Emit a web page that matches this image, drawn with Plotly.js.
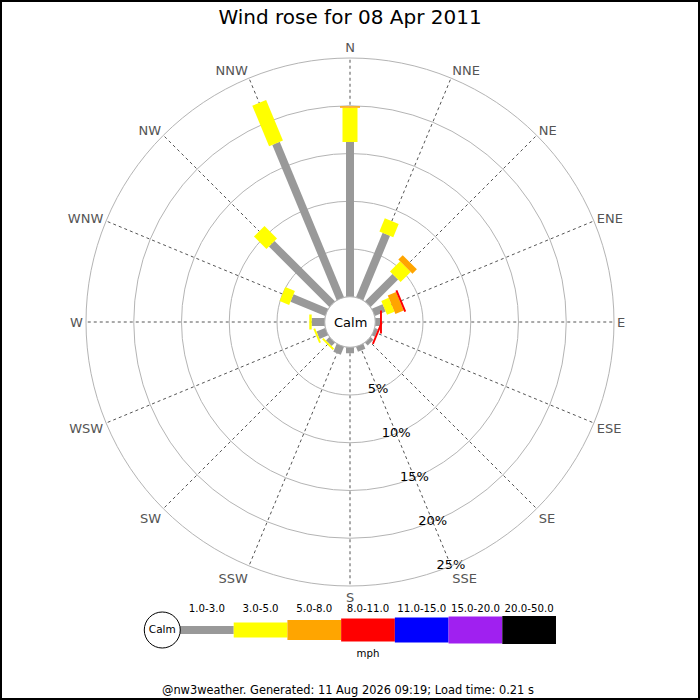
<!DOCTYPE html>
<html>
<head>
<meta charset="utf-8">
<script src="https://cdn.plot.ly/plotly-3.0.1.min.js"></script>
<style>html,body{margin:0;padding:0;background:#fff;}#chart{width:700px;height:700px;}</style>
</head>
<body>
<div id="chart"></div>
<script>
// ---- data ----
var directions = ["N","NNE","NE","ENE","E","ESE","SE","SSE","S","SSW","SW","WSW","W","WNW","NW","NNW"];
var directionAngles = [0,22.5,45,67.5,90,112.5,135,157.5,180,202.5,225,247.5,270,292.5,315,337.5];
var speedBins = ["1.0-3.0","3.0-5.0","5.0-8.0","8.0-11.0","11.0-15.0","15.0-20.0","20.0-50.0"];
var bin1 = [16.2, 7.3, 4.06, 1.23, 0.5, 0.35, 0.4, 0.55, 0.63, 0.9, 0.5, 0.98, 1.37, 3.93, 8.95, 17.6];
var bin2 = [3.6, 1.48, 1.5, 0.84, 0, 0, 0, 0, 0, 0, 0.2, 0.2, 0.25, 1.08, 1.85, 4.6];
var bin3 = [0.15, 0, 0.65, 0.94, 0, 0, 0, 0, 0, 0, 0, 0, 0, 0, 0, 0];
var bin4 = [0, 0, 0, 0.21, 0.2, 0.2, 0, 0, 0, 0, 0, 0, 0, 0, 0, 0];
var bin5 = [0,0,0,0,0,0,0,0,0,0,0,0,0,0,0,0];
var bin6 = [0,0,0,0,0,0,0,0,0,0,0,0,0,0,0,0];
var bin7 = [0,0,0,0,0,0,0,0,0,0,0,0,0,0,0,0];
var radialTicks = [5,10,15,20,25];
var radialTickLabels = ["5%","10%","15%","20%","25%"];
var unitLabel = "mph";

// ---- styles ----
var binColors = ["#999999","#ffff00","#ffa500","#ff0000","#0000ff","#a020f0","#000000"];
var binWidths = [8,15,20,23,25,27,28];
var bins = [bin1,bin2,bin3,bin4,bin5,bin6,bin7];

var traces = [];
var cum = directions.map(function(){return 0;});
bins.forEach(function(vals, b){
  var r = [], th = [];
  vals.forEach(function(v, d){
    var s = cum[d];
    if (v > 0) { r.push(s, s+v, null); th.push(directionAngles[d], directionAngles[d], null); }
    cum[d] = s + v;
  });
  traces.push({type:'scatterpolar', mode:'lines', r:r, theta:th, connectgaps:false,
    line:{color:binColors[b], width:binWidths[b]}, hoverinfo:'skip', showlegend:false, cliponaxis:false, subplot:'polar'});
});

// calm circle at the hole edge
var circTh = [], circR = [];
for (var a = 0; a <= 360; a += 3) { circTh.push(a); circR.push(0); }
traces.unshift({type:'scatterpolar', mode:'lines', r:circR, theta:circTh,
  line:{color:'#b4b4b4', width:1}, hoverinfo:'skip', showlegend:false, cliponaxis:false, subplot:'polar'});

// radial tick labels
traces.push({type:'scatterpolar', mode:'text', r:radialTicks, theta:radialTicks.map(function(){return 157.5;}),
  text:radialTickLabels, textfont:{size:13,color:'#000'}, hoverinfo:'skip', showlegend:false, cliponaxis:false, subplot:'polar'});

// ---- legend (cartesian) ----
speedBins.forEach(function(lbl, i){
  traces.push({type:'scatter', mode:'lines', x:[i, i+1], y:[0,0], xaxis:'x', yaxis:'y',
    line:{color:binColors[i], width:binWidths[i]}, hoverinfo:'skip', showlegend:false, cliponaxis:false});
});
traces.push({type:'scatter', mode:'text', x:speedBins.map(function(_,i){return i+0.5;}), y:speedBins.map(function(){return 0.6;}),
  text:speedBins, textfont:{size:10.2,color:'#000'}, xaxis:'x', yaxis:'y', hoverinfo:'skip', showlegend:false, cliponaxis:false});
traces.push({type:'scatter', mode:'text', x:[3.5], y:[-0.7], text:[unitLabel], textfont:{size:10.2,color:'#000'},
  xaxis:'x', yaxis:'y', hoverinfo:'skip', showlegend:false, cliponaxis:false});
traces.push({type:'scatter', mode:'markers+text', x:[-0.33], y:[0], text:['Calm'], textposition:'middle center',
  textfont:{size:10.5,color:'#000'}, marker:{size:36, color:'#fff', line:{color:'#000', width:1}},
  xaxis:'x', yaxis:'y', hoverinfo:'skip', showlegend:false, cliponaxis:false});

var cx = 350, cy = 322, R = 264;
var segPx = (556-180)/7;
var layout = {
  width:700, height:700,
  margin:{l:0,r:0,t:0,b:0},
  paper_bgcolor:'#fff', plot_bgcolor:'rgba(0,0,0,0)',
  font:{family:'DejaVu Sans', color:'#000'},
  showlegend:false,
  title:{text:'Wind rose for 08 Apr 2011', font:{size:20,color:'#000'}, x:0.5, xanchor:'center', y:1-17/700, yanchor:'middle'},
  polar:{
    domain:{x:[(cx-R)/700,(cx+R)/700], y:[(700-cy-R)/700,(700-cy+R)/700]},
    hole:25.25/264,
    bgcolor:'#fff',
    radialaxis:{range:[0,25], tickmode:'array', tickvals:[5,10,15,20], showticklabels:false, ticks:'', showline:false,
      gridcolor:'#b4b4b4', gridwidth:1},
    angularaxis:{rotation:90, direction:'clockwise', thetaunit:'degrees', tickmode:'array', tickvals:directionAngles, ticktext:directions,
      ticks:'', showline:true, linecolor:'#b4b4b4', linewidth:1, gridcolor:'#555', griddash:'dot', gridwidth:1,
      tickfont:{size:13,color:'#555'}}
  },
  xaxis:{domain:[(180-segPx)/700,556/700], range:[-1,7], visible:false, fixedrange:true},
  yaxis:{domain:[0.05,0.15], range:[-1,1], visible:false, fixedrange:true},
  annotations:[
    {xref:'paper', yref:'paper', x:cx/700, y:(700-cy)/700, text:'Calm', showarrow:false, font:{size:13,color:'#000'}, xanchor:'center', yanchor:'middle'},
    {xref:'paper', yref:'paper', x:348/700, y:10/700, text:'@nw3weather. Generated: 11 Aug 2026 09:19; Load time: 0.21 s', showarrow:false,
      font:{size:11.4,color:'#000'}, xanchor:'center', yanchor:'middle'}
  ],
  shapes:[{type:'rect', xref:'paper', yref:'paper', x0:0, x1:1, y0:0, y1:1, line:{color:'#000', width:4}, fillcolor:'rgba(0,0,0,0)'}]
};

Plotly.newPlot('chart', traces, layout, {staticPlot:true, displayModeBar:false});
</script>
</body>
</html>
